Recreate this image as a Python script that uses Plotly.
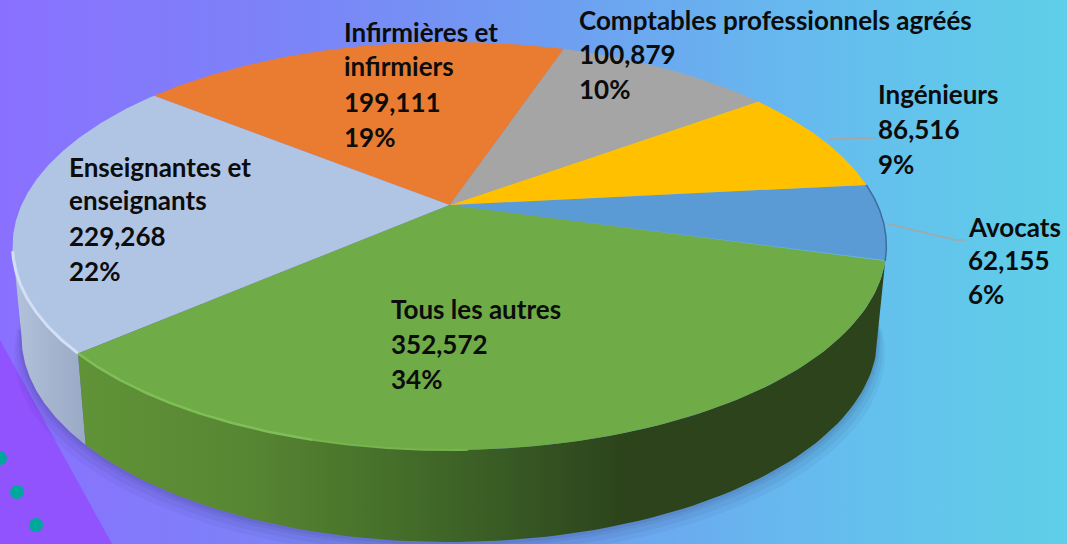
import numpy as np
import plotly.graph_objects as go

categories = ["Avocats", "Ingénieurs", "Comptables professionnels agréés",
              "Infirmières et infirmiers", "Enseignantes et enseignants", "Tous les autres"]
values = [62155, 86516, 100879, 199111, 229268, 352572]
percents = ["6%", "9%", "10%", "19%", "22%", "34%"]
value_labels = ["62,155", "86,516", "100,879", "199,111", "229,268", "352,572"]
name_lines = [["Avocats"], ["Ingénieurs"], ["Comptables professionnels agréés"],
              ["Infirmières et", "infirmiers"], ["Enseignantes et", "enseignants"], ["Tous les autres"]]
slice_colors = ["#5b9bd5", "#ffc000", "#a5a5a5", "#ea7c31", "#b0c4e3", "#6fab46"]
label_x = [966, 876, 577, 342, 67, 389]
label_y = [[227, 260, 294], [94, 129, 164], [20, 54, 89],
           [32, 66, 102, 137], [167, 200, 236, 271], [309, 344, 379]]

W, H = 1067, 544
# tilted-disc view of the pie
CX, CY, A, B, K = 449.5, 205, 428, 195.8, 0.201
START = -15.7


def rim(t_deg):
    t = np.radians(t_deg)
    u, v = np.cos(t), np.sin(t)
    d = 1 + K * v
    return CX + A * u / d, CY - B * v / d


def lower(t_deg):
    x, y = rim(t_deg)
    return 449 + (x - 449) * 428 / 437, 337 + (y - 246) * 205 / 204


def arc(f, a, b, n=90):
    return f(np.linspace(a, b, n))


total = sum(values)
edges = START + np.concatenate([[0], np.cumsum(values)]) / total * 360
tous_a, tous_b = edges[-2] - 360, edges[-1] - 360  # front part of the pie, negative angles
fig = go.Figure()

# background gradient
fig.add_trace(go.Scatter(
    x=[0, W, W, 0, 0], y=[0, 0, H, H, 0], mode="lines", line_width=0, fill="toself",
    fillgradient=dict(type="horizontal", colorscale=[
        [0, "#8a70ff"], [0.3, "#7a86f7"], [0.55, "#6da2f0"], [0.78, "#65bdee"], [1, "#5fcfe8"]]),
    hoverinfo="skip"))

# purple corner and dots
fig.add_trace(go.Scatter(x=[0, 112, 0, 0], y=[340, 544, 544, 340], mode="lines", line_width=0,
                         fill="toself", fillcolor="#9153fd", hoverinfo="skip"))
fig.add_trace(go.Scatter(x=[0, 17, 36], y=[458, 492, 525], mode="markers",
                         marker=dict(size=14, color="#00a79d"), hoverinfo="skip"))

# soft shadow under the pie
for grow, alpha in [(16, 0.05), (11, 0.06), (6, 0.07), (3, 0.08)]:
    lx, ly = arc(lower, -175, -5)
    fig.add_trace(go.Scatter(
        x=449 + (lx - 449) * (1 + grow / 900), y=ly + grow, mode="lines", line_width=0,
        fill="toself", fillcolor=f"rgba(40,40,90,{alpha})", hoverinfo="skip"))

# walls
ux, uy = arc(rim, -168.4, tous_a)
lx, ly = arc(lower, -168.4, tous_a)
fig.add_trace(go.Scatter(
    x=np.r_[ux, lx[::-1], ux[0]], y=np.r_[uy, ly[::-1], uy[0]], mode="lines", line_width=0,
    fill="toself", fillgradient=dict(type="horizontal", colorscale=[
        [0, "#b4c3dc"], [0.5, "#a6b5cf"], [1, "#9aaac6"]]), hoverinfo="skip"))
ux, uy = arc(rim, tous_a, tous_b)
lx, ly = arc(lower, tous_a, tous_b)
fig.add_trace(go.Scatter(
    x=np.r_[ux, lx[::-1], ux[0]], y=np.r_[uy, ly[::-1], uy[0]], mode="lines", line_width=0,
    fill="toself", fillgradient=dict(type="horizontal", colorscale=[
        [0, "#609338"], [0.2, "#588733"], [0.38, "#46702a"], [0.55, "#365723"],
        [0.68, "#2c431b"], [1, "#2c431b"]]), hoverinfo="skip"))

# top face: one wedge per category, from the values
for i, name in enumerate(categories):
    xs, ys = arc(rim, edges[i], edges[i + 1], 120)
    fig.add_trace(go.Scatter(
        x=np.r_[CX, xs, CX], y=np.r_[CY, ys, CY], mode="lines", line_width=0, name=name,
        fill="toself", fillcolor=slice_colors[i],
        text=f"{name}: {value_labels[i]} ({percents[i]})", hoverinfo="text"))

# rim highlights
hx, hy = arc(rim, tous_a, -167)
fig.add_trace(go.Scatter(x=hx, y=hy, mode="lines", line=dict(color="#d3dff7", width=3), hoverinfo="skip"))
hx, hy = arc(rim, tous_a, -105)
fig.add_trace(go.Scatter(x=hx, y=hy, mode="lines", line=dict(color="#80bf58", width=2.5), hoverinfo="skip"))
hx, hy = arc(rim, -105, -88)
fig.add_trace(go.Scatter(x=hx, y=hy, mode="lines", line=dict(color="#77b54f", width=2), hoverinfo="skip"))
hx, hy = arc(rim, edges[0], edges[1])
fig.add_trace(go.Scatter(x=hx, y=hy, mode="lines", line=dict(color="#3f6c9c", width=1.5), hoverinfo="skip"))

# leader lines
fig.add_trace(go.Scatter(x=[827, 875], y=[139, 138], mode="lines", line=dict(color="#a6a6a6", width=1.5), hoverinfo="skip"))
fig.add_trace(go.Scatter(x=[885, 955, 965], y=[223, 240, 240], mode="lines", line=dict(color="#a6a6a6", width=1.5), hoverinfo="skip"))

# labels
annotations = []
for i in range(len(categories)):
    lines = name_lines[i] + [value_labels[i], percents[i]]
    for text, y in zip(lines, label_y[i]):
        annotations.append(dict(x=label_x[i], y=y, text=text, xref="x", yref="y", showarrow=False,
                                xanchor="left", yanchor="middle",
                                font=dict(family="Lato", size=26, color="#0c0c0c", weight="bold")))

fig.update_layout(
    width=W, height=H, margin=dict(l=0, r=0, t=0, b=0), showlegend=False,
    paper_bgcolor="#7a86f7", plot_bgcolor="rgba(0,0,0,0)", annotations=annotations,
    xaxis=dict(range=[0, W], visible=False, fixedrange=True),
    yaxis=dict(range=[H, 0], visible=False, fixedrange=True),
)
fig.write_html("out.html", post_script="document.body.style.margin='0';", config={"displayModeBar": False})
